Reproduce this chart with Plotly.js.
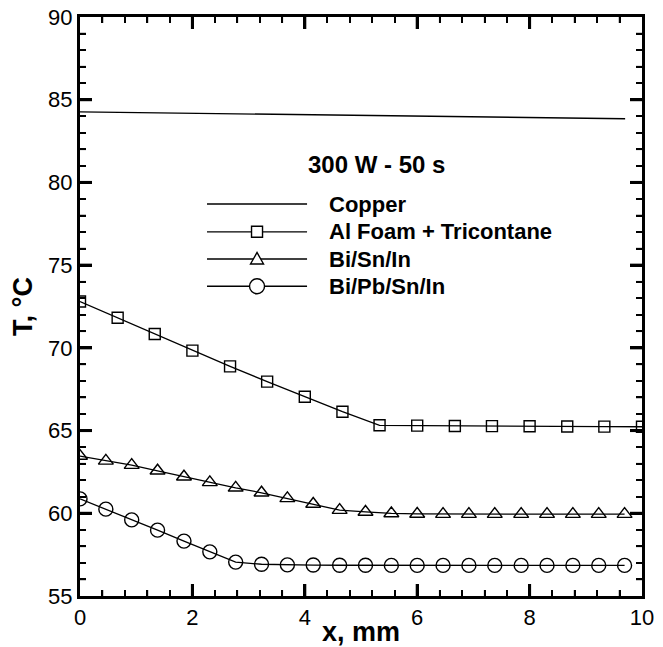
<!DOCTYPE html>
<html><head><meta charset="utf-8">
<script src="https://cdn.plot.ly/plotly-3.0.1.min.js"></script>
<style>
html,body{margin:0;padding:0;background:#fff}
#wrap{position:relative;width:663px;height:647px}
#chart,#overlay{position:absolute;left:0;top:0;width:663px;height:647px}
#overlay{pointer-events:none}
</style>
</head><body><div id="wrap"><div id="chart"></div><div id="overlay"></div></div>
<script>
// ---- Data ----
const seriesNames = ["Copper", "Al Foam + Tricontane", "Bi/Sn/In", "Bi/Pb/Sn/In"];
const chartLabel = "300 W - 50 s";

// Copper (line only)
const copperX = [0, 2, 4, 6, 8, 9.7];
const copperT = [84.27, 84.18, 84.09, 84.0, 83.92, 83.85];

// Al Foam + Tricontane (squares)
const foamX = [0, 0.67, 1.33, 2, 2.67, 3.33, 4, 4.67, 5.33, 6, 6.67, 7.33, 8, 8.67, 9.33, 10];
const foamT = [72.8, 71.82, 70.84, 69.83, 68.88, 67.96, 67.04, 66.14, 65.32, 65.3, 65.28, 65.27, 65.26, 65.25, 65.24, 65.23];

// Bi/Sn/In (triangles)
const bsiX = [0, 0.46, 0.92, 1.38, 1.85, 2.31, 2.77, 3.23, 3.69, 4.15, 4.62, 5.08, 5.54, 6.0, 6.46, 6.92, 7.38, 7.85, 8.31, 8.77, 9.23, 9.69];
const bsiT = [63.46, 63.17, 62.91, 62.57, 62.21, 61.87, 61.54, 61.24, 60.9, 60.56, 60.19, 60.08, 59.99, 59.96, 59.95, 59.95, 59.95, 59.95, 59.95, 59.95, 59.95, 59.95];

// Bi/Pb/Sn/In (circles)
const bpsiX = [0, 0.46, 0.92, 1.38, 1.85, 2.31, 2.77, 3.23, 3.69, 4.15, 4.62, 5.08, 5.54, 6.0, 6.46, 6.92, 7.38, 7.85, 8.31, 8.77, 9.23, 9.69];
const bpsiT = [60.87, 60.25, 59.6, 58.98, 58.32, 57.67, 57.05, 56.92, 56.88, 56.87, 56.86, 56.86, 56.85, 56.85, 56.85, 56.85, 56.85, 56.85, 56.85, 56.85, 56.85, 56.85];

// ---- Axes ----
const xRange = [0, 10];
const yRange = [55, 90];
const xMajorStep = 2, xMinorStep = 0.4;
const yMajorStep = 5, yMinorStep = 1;
const xTitle = "x, mm";
const yTitle = "T, °C";

const FONT = "Liberation Sans, Arial, Helvetica, sans-serif";
const MARGIN = {l: 80, r: 21, t: 17, b: 51};
const PW = 663 - MARGIN.l - MARGIN.r;

// ---- Main chart: data + axes ----
const traces = [
  {x: copperX, y: copperT, mode: "lines", name: seriesNames[0], line: {color: "#000", width: 1.3}},
  {x: foamX, y: foamT, mode: "lines+markers", name: seriesNames[1], line: {color: "#000", width: 1.3},
   marker: {symbol: "square-open", size: 11, color: "#000", line: {width: 1.4}}},
  {x: bsiX, y: bsiT, mode: "lines+markers", name: seriesNames[2], line: {color: "#000", width: 1.3},
   marker: {symbol: "triangle-up-open", size: 13, color: "#000", line: {width: 1.4}}},
  {x: bpsiX, y: bpsiT, mode: "lines+markers", name: seriesNames[3], line: {color: "#000", width: 1.3},
   marker: {symbol: "circle-open", size: 14, color: "#000", line: {width: 1.4}}}
];

const layoutMain = {
  width: 663, height: 647, margin: MARGIN,
  paper_bgcolor: "#fff", plot_bgcolor: "#fff", showlegend: false,
  xaxis: {
    range: xRange, dtick: xMajorStep, tick0: 0,
    showgrid: false, zeroline: false, showline: true, linecolor: "#000", linewidth: 3,
    mirror: "ticks", ticks: "inside", ticklen: 12, tickwidth: 3, tickcolor: "#000",
    minor: {dtick: xMinorStep, ticks: "inside", ticklen: 6, tickwidth: 1.5, tickcolor: "#000"},
    tickfont: {family: FONT, size: 22, color: "#000"},
    title: {text: "<b>" + xTitle + "</b>", standoff: 0, font: {family: FONT, size: 27, color: "#000"}}
  },
  yaxis: {
    range: yRange, dtick: yMajorStep, tick0: 55,
    showgrid: false, zeroline: false, showline: true, linecolor: "#000", linewidth: 3,
    mirror: "ticks", ticks: "inside", ticklen: 12, tickwidth: 3, tickcolor: "#000",
    minor: {dtick: yMinorStep, ticks: "inside", ticklen: 6, tickwidth: 1.5, tickcolor: "#000"},
    tickfont: {family: FONT, size: 22, color: "#000"},
    title: {text: "<b>" + yTitle + "</b>", standoff: 8, font: {family: FONT, size: 27, color: "#000"}}
  }
};

// ---- Overlay: frame, tick marks, legend, label ----
const shapes = [];
const annotations = [];
const K = "#000";
// frame (aligned with Plotly's axis lines, 3 px, drawn just outside the plot area)
const ext = 3 / PW;
shapes.push({type: "line", xref: "paper", yref: "paper", ysizemode: "pixel", yanchor: 0, x0: -ext, x1: 1 + ext, y0: -1.5, y1: -1.5, line: {color: K, width: 3}});
shapes.push({type: "line", xref: "paper", yref: "paper", ysizemode: "pixel", yanchor: 1, x0: -ext, x1: 1 + ext, y0: 1.5, y1: 1.5, line: {color: K, width: 3}});
shapes.push({type: "line", xref: "paper", yref: "paper", xsizemode: "pixel", xanchor: 0, y0: 0, y1: 1, x0: -1.5, x1: -1.5, line: {color: K, width: 3}});
shapes.push({type: "line", xref: "paper", yref: "paper", xsizemode: "pixel", xanchor: 1, y0: 0, y1: 1, x0: 1.5, x1: 1.5, line: {color: K, width: 3}});
// x tick marks, bottom and top
const nX = Math.round((xRange[1] - xRange[0]) / xMinorStep);
const xPer = Math.round(xMajorStep / xMinorStep);
for (let k = 1; k < nX; k++) {
  const v = xRange[0] + k * xMinorStep;
  const major = k % xPer === 0;
  const len = major ? 12 : 6, w = major ? 3 : 1.5;
  shapes.push({type: "line", xref: "x", yref: "paper", ysizemode: "pixel", yanchor: 0, x0: v, x1: v, y0: 0, y1: len, line: {color: K, width: w}});
  shapes.push({type: "line", xref: "x", yref: "paper", ysizemode: "pixel", yanchor: 1, x0: v, x1: v, y0: 0, y1: -len, line: {color: K, width: w}});
}
// y tick marks, left and right
const nY = Math.round((yRange[1] - yRange[0]) / yMinorStep);
const yPer = Math.round(yMajorStep / yMinorStep);
for (let k = 1; k < nY; k++) {
  const v = yRange[0] + k * yMinorStep;
  const major = k % yPer === 0;
  const len = major ? 12 : 6, w = major ? 3 : 1.5;
  shapes.push({type: "line", xref: "paper", yref: "y", xsizemode: "pixel", xanchor: 0, y0: v, y1: v, x0: 0, x1: len, line: {color: K, width: w}});
  shapes.push({type: "line", xref: "paper", yref: "y", xsizemode: "pixel", xanchor: 1, y0: v, y1: v, x0: 0, x1: -len, line: {color: K, width: w}});
}
// legend
const legX0 = 0.226, legX1 = 0.404, legXm = 0.315, legTextX = 0.4395;
const legY = [0.677, 0.629, 0.582, 0.535];
legY.forEach((yy, i) => {
  shapes.push({type: "line", xref: "paper", yref: "paper", x0: legX0, x1: legX1, y0: yy, y1: yy, line: {color: K, width: 1.3}});
  annotations.push({xref: "paper", yref: "paper", x: legTextX, y: yy, xanchor: "left", yanchor: "middle",
    text: "<b>" + seriesNames[i] + "</b>", showarrow: false, font: {family: FONT, size: 22, color: K}});
});
shapes.push({type: "rect", xref: "paper", yref: "paper", xsizemode: "pixel", ysizemode: "pixel",
  xanchor: legXm, yanchor: legY[1], x0: -5.5, x1: 5.5, y0: -5.5, y1: 5.5, line: {color: K, width: 1.4}, fillcolor: "#fff"});
shapes.push({type: "path", xref: "paper", yref: "paper", xsizemode: "pixel", ysizemode: "pixel",
  xanchor: legXm, yanchor: legY[2], path: "M -6.5 -5 L 6.5 -5 L 0 6.5 Z", line: {color: K, width: 1.4}, fillcolor: "#fff"});
shapes.push({type: "circle", xref: "paper", yref: "paper", xsizemode: "pixel", ysizemode: "pixel",
  xanchor: legXm, yanchor: legY[3], x0: -7.5, x1: 7.5, y0: -7.5, y1: 7.5, line: {color: K, width: 1.4}, fillcolor: "#fff"});
annotations.push({xref: "paper", yref: "paper", x: 0.528, y: 0.746, xanchor: "center", yanchor: "middle",
  text: "<b>" + chartLabel + "</b>", showarrow: false, font: {family: FONT, size: 24, color: K}});

const hiddenAxis = r => ({range: r, showgrid: false, zeroline: false, showline: false, ticks: "", showticklabels: false, fixedrange: true});
const layoutOverlay = {
  width: 663, height: 647, margin: MARGIN,
  paper_bgcolor: "rgba(0,0,0,0)", plot_bgcolor: "rgba(0,0,0,0)", showlegend: false,
  xaxis: hiddenAxis(xRange), yaxis: hiddenAxis(yRange),
  shapes: shapes, annotations: annotations
};

Plotly.newPlot("chart", traces, layoutMain, {displayModeBar: false});
Plotly.newPlot("overlay", [], layoutOverlay, {displayModeBar: false, staticPlot: true});
</script></body></html>
